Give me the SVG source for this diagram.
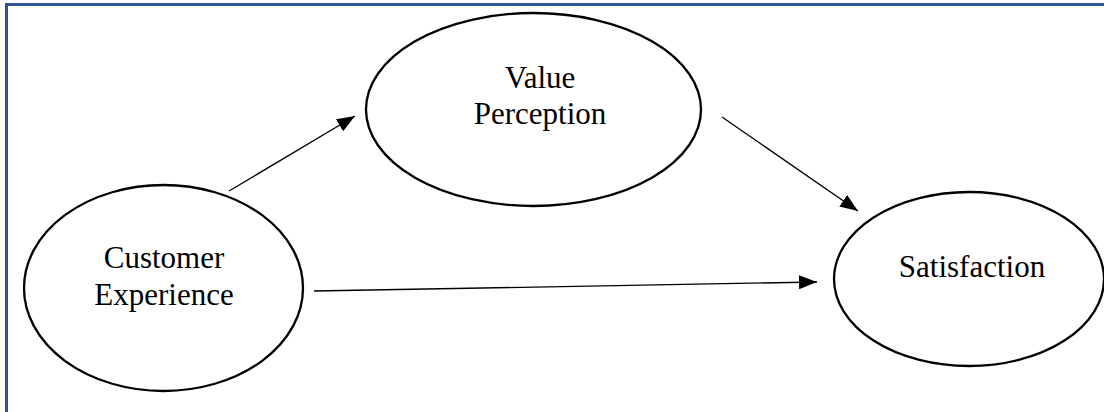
<svg xmlns="http://www.w3.org/2000/svg" width="1104" height="412" viewBox="0 0 1104 412">
  <style>
    .node ellipse { fill: #ffffff; stroke: #000000; stroke-width: 2.3; }
    .node text { font-family: "Liberation Serif", "Times New Roman", serif; font-size: 31px; fill: #000000; text-anchor: middle; }
    .edge { stroke: #000000; stroke-width: 1.3; fill: none; marker-end: url(#arrow); }
  </style>
  <defs>
    <marker id="arrow" markerUnits="userSpaceOnUse" markerWidth="19" markerHeight="15" refX="18" refY="7" orient="auto">
      <path d="M0,0 L18,7 L0,14 Z" fill="#000000"/>
    </marker>
  </defs>
  <rect x="0" y="0" width="1104" height="412" fill="#ffffff"/>
  <rect id="frame" x="6.5" y="4.5" width="1200" height="500" fill="none" stroke="#2f5597" stroke-width="3"/>
  <g id="connectors">
    <line class="edge" x1="229" y1="191" x2="355" y2="116"/>
    <line class="edge" x1="314" y1="291" x2="817" y2="282"/>
    <line class="edge" x1="722" y1="117" x2="858" y2="211"/>
  </g>
  <g id="customer-experience" class="node">
    <ellipse cx="163.5" cy="288" rx="139.5" ry="103"/>
    <text x="164" y="268">Customer</text>
    <text x="164" y="305">Experience</text>
  </g>
  <g id="value-perception" class="node">
    <ellipse cx="533.5" cy="109.5" rx="167.5" ry="96.5"/>
    <text x="540" y="88">Value</text>
    <text x="540" y="124">Perception</text>
  </g>
  <g id="satisfaction" class="node">
    <ellipse cx="969" cy="279" rx="135" ry="87"/>
    <text x="972" y="277">Satisfaction</text>
  </g>
</svg>
